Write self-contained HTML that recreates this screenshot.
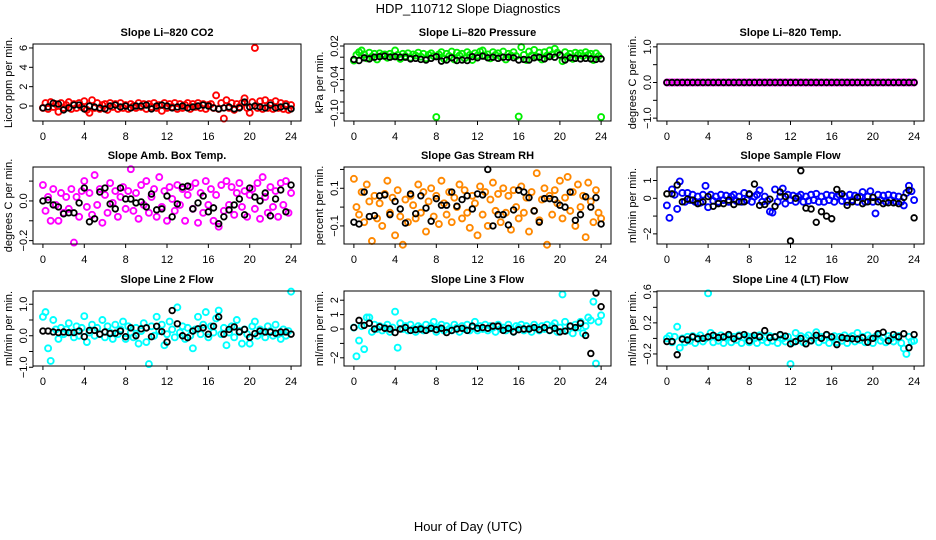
<!DOCTYPE html>
<html><head><meta charset="utf-8"><style>
body{margin:0;background:#fff;}
svg{display:block;font-family:"Liberation Sans",sans-serif;}
</style></head><body>
<svg id="chart" width="936" height="540" viewBox="0 0 936 540" xmlns="http://www.w3.org/2000/svg">
<rect width="936" height="540" fill="#fff"/>
<text x="468" y="13" font-size="13" text-anchor="middle">HDP_110712  Slope Diagnostics</text>
<text x="468" y="531" font-size="13" text-anchor="middle">Hour of Day (UTC)</text>
</svg>
<script>
const xTicks=[0,4,8,12,16,20,24];
const co2Col=[-0.2,0.3,-0.3,0.4,-0.1,0.2,-0.6,0.3,-0.2,0.1,0.4,-0.3,0.2,-0.2,0.3,-0.1,0.5,-0.4,-0.7,0.6,-0.2,0.3,-0.3,0.1,0.2,-0.4,0.3,-0.1,0.2,-0.3,0.3,-0.2,0.1,-0.3,0.2,0.0,-0.2,0.3,-0.1,0.2,-0.3,0.2,-0.1,0.3,-0.2,0.1,-0.5,0.3,-0.2,0.2,-0.1,0.3,-0.3,0.2,-0.2,0.1,0.3,-0.3,0.2,-0.1,0.3,-0.2,0.2,-0.3,0.1,0.2,-0.2,1.1,-0.3,0.3,-1.3,0.6,-0.2,0.3,-0.4,0.2,-0.1,0.3,0.8,-0.2,-0.7,0.4,6.0,-0.2,0.5,-0.3,0.6,-0.2,0.3,-0.3,0.5,-0.2,0.3,-0.3,0.2,-0.4,0.1];
const co2Blk=[-0.2,-0.1,0.3,0.2,-0.4,-0.2,0.1,0.1,-0.3,0.0,-0.1,-0.2,-0.3,0.0,0.1,-0.1,0.0,-0.2,0.0,0.0,0.1,-0.3,0.0,0.1,0.0,-0.2,-0.1,0.0,-0.2,-0.1,0.0,0.1,0.0,-0.2,-0.3,-0.2,-0.1,-0.3,-0.2,0.4,-0.1,0.0,-0.1,-0.2,0.1,-0.2,-0.1,0.0,-0.3];
const presCol=[-0.006,0.004,0.009,0.012,0.005,-0.002,0.008,0.001,0.006,-0.004,0.007,0.003,0.005,-0.001,0.006,0.002,0.012,0.004,-0.003,0.006,0.002,0.007,-0.001,0.005,0.003,0.008,0.001,0.006,-0.002,0.004,0.007,0.002,-0.107,0.005,0.009,-0.003,0.006,0.002,0.010,-0.004,0.008,0.003,0.006,-0.002,0.009,0.004,-0.005,0.007,0.003,0.010,0.012,0.002,0.005,-0.002,0.009,0.004,0.007,0.001,0.010,-0.004,0.006,0.003,0.009,0.002,-0.106,0.018,0.004,-0.005,0.010,0.003,0.013,0.001,0.008,-0.004,0.009,0.003,0.012,0.005,0.015,0.008,0.004,-0.007,0.009,0.002,0.006,-0.003,0.008,0.004,0.007,0.002,0.009,0.004,0.006,-0.005,0.007,0.002,-0.107];
const presBlk=[-0.004,-0.006,-0.001,-0.003,0.000,0.001,0.002,0.000,0.001,0.000,0.000,-0.003,-0.002,-0.004,-0.005,-0.002,0.001,-0.007,-0.005,-0.001,-0.006,-0.005,-0.006,0.001,-0.001,0.002,-0.001,0.000,-0.002,0.000,0.000,-0.001,-0.005,-0.004,-0.005,-0.001,0.000,-0.003,0.001,0.000,0.004,-0.005,-0.001,-0.002,-0.003,-0.002,-0.003,-0.004,-0.003];
const tempCol=[0,0,0,0,0,0,0,0,0,0,0,0,0,0,0,0,0,0,0,0,0,0,0,0,0,0,0,0,0,0,0,0,0,0,0,0,0,0,0,0,0,0,0,0,0,0,0,0,0,0,0,0,0,0,0,0,0,0,0,0,0,0,0,0,0,0,0,0,0,0,0,0,0,0,0,0,0,0,0,0,0,0,0,0,0,0,0,0,0,0,0,0,0,0,0,0,0];
const tempBlk=[0,0,0,0,0,0,0,0,0,0,0,0,0,0,0,0,0,0,0,0,0,0,0,0,0,0,0,0,0,0,0,0,0,0,0,0,0,0,0,0,0,0,0,0,0,0,0,0,0];
const ambCol=[0.08,-0.05,0.02,-0.1,0.06,-0.02,-0.1,0.04,-0.06,0.02,-0.04,0.06,-0.21,0.02,-0.08,0.05,0.10,-0.03,0.04,-0.07,0.13,-0.02,0.06,-0.11,0.03,-0.06,0.09,-0.01,0.05,-0.08,0.02,0.07,-0.04,0.05,0.16,-0.05,0.04,-0.09,0.08,-0.02,0.10,-0.06,0.02,0.06,-0.08,0.12,-0.03,0.05,-0.1,0.07,0.01,-0.05,0.08,-0.02,0.06,-0.1,0.03,0.07,-0.04,0.09,-0.11,0.04,-0.06,0.10,-0.02,0.06,-0.1,0.03,-0.13,0.08,-0.05,0.10,-0.02,0.07,-0.07,0.04,0.09,-0.03,0.05,-0.08,0.03,0.06,-0.04,0.09,-0.09,0.12,0.02,-0.06,0.07,-0.03,0.05,-0.08,0.09,-0.02,0.10,-0.06,0.04];
const ambBlk=[0.0,0.005,-0.02,-0.03,-0.065,-0.06,-0.06,-0.01,0.065,-0.105,-0.09,0.045,0.065,-0.015,-0.04,0.065,0.01,0.01,-0.01,-0.005,-0.03,0.035,-0.045,-0.04,0.025,-0.08,-0.015,0.07,0.075,-0.04,-0.01,0.025,-0.055,-0.035,-0.115,-0.08,-0.045,-0.02,0.01,-0.07,0.065,0.02,0.0,0.04,-0.075,0.01,0.055,-0.055,0.08];
const rhCol=[0.15,0.0,-0.04,0.08,-0.08,0.12,0.03,-0.18,0.06,-0.06,0.02,-0.1,0.07,0.14,-0.03,0.05,-0.15,0.09,-0.05,-0.2,0.04,-0.08,0.06,0.01,-0.06,0.12,-0.03,0.08,-0.13,0.03,0.10,-0.05,0.06,-0.09,0.14,0.02,-0.04,0.08,-0.08,0.05,0.0,0.12,-0.06,0.09,-0.03,-0.11,0.06,0.02,-0.15,0.11,-0.04,0.08,-0.1,0.04,0.13,-0.02,0.07,-0.08,0.10,-0.03,0.06,-0.12,0.09,0.0,-0.06,0.11,-0.03,0.05,-0.13,0.08,-0.02,0.18,-0.07,0.04,0.10,-0.2,0.06,-0.04,0.09,0.02,0.14,-0.06,0.05,0.16,-0.02,0.08,-0.1,0.12,0.0,0.06,-0.16,0.13,0.03,-0.08,0.09,-0.03,-0.06];
const rhBlk=[-0.08,-0.09,0.08,-0.05,-0.045,0.06,0.065,-0.04,0.03,-0.01,-0.085,0.07,-0.035,0.06,-0.005,-0.075,0.045,0.01,0.01,0.08,0.005,0.04,0.06,-0.01,0.07,0.065,0.2,-0.1,-0.04,-0.04,-0.095,-0.015,0.09,0.08,0.05,-0.02,-0.08,0.045,0.045,0.04,0.01,0.0,0.08,-0.07,-0.04,0.055,0.0,0.05,-0.09];
const sflCol=[-0.4,-1.1,0.5,0.2,-0.6,0.95,0.3,-0.2,0.3,-0.1,0.2,-0.2,0.1,-0.25,0.2,0.7,-0.5,0.2,-0.15,0.1,-0.2,0.2,-0.1,0.15,-0.2,0.1,0.2,-0.15,0.1,-0.2,0.3,-0.1,0.2,-0.2,0.1,0.2,0.45,-0.2,0.1,-0.15,-0.75,-0.8,0.5,-0.2,0.1,0.55,-0.3,0.2,-0.1,0.15,-0.2,0.1,0.2,-0.2,0.1,-0.15,0.2,-0.1,0.25,-0.2,0.1,-0.2,0.2,-0.1,0.15,-0.2,0.1,0.2,-0.15,0.1,-0.2,0.2,-0.1,0.15,-0.2,0.1,0.35,-0.2,0.1,0.4,-0.2,-0.85,0.2,-0.1,0.15,-0.2,0.2,-0.1,0.15,-0.2,0.1,-0.2,-0.4,0.3,0.7,0.4,-0.1];
const sflBlk=[0.25,0.25,0.75,-0.2,-0.05,-0.1,-0.3,-0.2,0.1,-0.45,-0.3,-0.3,-0.1,-0.35,-0.2,-0.2,0.25,0.8,-0.4,-0.35,-0.05,-0.45,0.35,0.1,-2.4,0.0,1.55,-0.55,-0.6,-1.35,-0.75,-1.0,-1.15,0.5,0.25,-0.4,-0.2,0.05,-0.3,-0.2,0.05,-0.2,-0.3,-0.25,-0.25,-0.3,0.05,0.45,-1.1];
const l2Col=[0.6,0.75,-0.4,-0.8,0.5,0.2,-0.1,0.25,0.05,0.2,0.4,0.1,-0.05,0.3,0.0,0.25,0.62,-0.2,0.1,0.35,0.0,0.25,0.05,0.5,-0.05,0.3,0.1,-0.1,0.35,0.05,0.2,0.45,-0.1,0.3,0.1,-0.05,0.25,-0.25,0.15,0.4,-0.2,-0.9,0.3,0.0,0.6,0.15,0.35,-0.3,0.05,0.45,0.2,-0.05,0.9,0.1,0.3,-0.1,0.25,0.0,-0.4,0.2,0.6,0.05,0.35,0.75,-0.05,0.3,0.1,0.55,0.8,0.05,0.25,-0.3,0.1,0.3,-0.05,0.5,0.15,-0.25,0.2,0.05,-0.25,0.3,0.45,0.0,0.2,0.1,-0.05,0.3,0.15,0.0,0.35,0.05,-0.1,0.2,0.0,0.15,1.4];
const l2Blk=[0.15,0.15,0.12,0.1,0.12,0.1,0.1,0.15,-0.03,0.17,0.17,0.05,0.12,0.07,0.08,0.15,-0.03,0.25,0.0,0.22,0.25,-0.03,0.3,0.13,-0.2,0.8,0.38,0.0,-0.06,0.15,0.22,0.25,0.05,0.3,0.6,0.05,0.2,0.28,0.12,0.2,-0.05,0.07,0.15,0.12,0.12,0.08,0.12,0.12,0.05];
const l3Col=[0.1,-1.9,-0.8,0.2,-1.4,0.8,0.8,-0.2,0.3,0.0,0.2,-0.1,0.1,0.3,-0.2,0.1,1.2,-1.3,0.4,0.0,0.2,-0.1,0.3,0.0,-0.2,0.2,0.1,-0.1,0.3,0.0,0.2,0.5,-0.2,0.1,0.3,-0.1,0.2,0.0,-0.1,0.3,0.1,-0.2,0.2,0.0,0.3,-0.1,0.1,0.5,-0.1,0.2,0.0,0.3,-0.1,0.2,0.1,-0.2,0.3,0.0,0.1,-0.1,0.3,0.0,-0.2,0.2,0.1,0.3,-0.1,0.2,0.0,-0.2,0.3,0.1,-0.1,0.2,0.0,0.3,-0.1,0.2,0.4,-0.2,0.1,2.4,0.5,-0.1,0.2,-0.3,0.3,0.1,0.5,-0.3,0.2,0.8,0.6,1.9,-2.4,0.5,0.95];
const l3Blk=[0.1,0.6,0.25,0.4,0.0,0.15,0.05,0.0,-0.25,0.0,0.1,-0.1,-0.05,0.0,-0.1,0.05,-0.05,0.05,-0.25,-0.1,0.0,0.05,-0.1,0.2,0.05,0.1,0.05,0.2,0.2,-0.1,0.05,-0.2,-0.05,0.0,0.0,0.1,-0.05,0.1,-0.1,0.05,-0.2,-0.15,0.2,0.1,0.4,-0.45,-1.7,2.5,1.55];
const l4Col=[0.0,0.03,-0.05,0.02,0.15,-0.12,0.0,-0.05,0.02,-0.03,0.03,-0.06,0.01,0.04,-0.04,0.0,0.58,0.07,-0.05,0.02,-0.03,0.04,-0.06,0.01,0.03,-0.05,0.02,-0.02,0.04,-0.06,0.01,0.03,-0.05,0.02,0.0,-0.06,0.04,-0.02,0.01,-0.05,0.03,-0.03,0.02,-0.06,0.04,0.0,-0.04,0.02,-0.33,-0.05,0.07,-0.02,0.03,-0.05,0.01,0.04,-0.03,0.0,0.08,-0.05,0.02,-0.02,0.04,-0.06,0.01,0.03,-0.05,0.02,-0.03,0.04,-0.06,0.01,0.03,-0.04,0.07,-0.02,0.02,-0.05,0.04,0.0,-0.06,0.02,0.04,-0.03,0.01,-0.05,0.03,0.0,-0.04,0.02,0.03,-0.06,-0.13,-0.2,0.02,-0.04,-0.03];
const l4Blk=[-0.04,-0.04,-0.21,-0.01,-0.02,0.02,-0.005,0.0,0.02,0.04,0.01,0.02,0.05,-0.005,0.03,0.05,-0.03,0.04,0.02,0.1,0.01,0.02,0.05,0.03,-0.07,-0.04,0.0,-0.07,-0.03,0.04,0.0,0.05,0.02,-0.08,0.01,0.0,-0.005,-0.01,0.01,-0.05,0.0,0.06,0.08,-0.03,0.05,0.02,0.06,-0.12,0.05];

const NS='http://www.w3.org/2000/svg';
const svg=document.getElementById('chart');
function mk(tag,attrs,parent){const e=document.createElementNS(NS,tag);for(const k in attrs)e.setAttribute(k,attrs[k]);(parent||svg).appendChild(e);return e;}

const panels=[
 {id:'co2',title:'Slope Li\u2013820 CO2',ylab:'Licor ppm per min.',L:33,T:44,W:268,H:77,top:6.41,bot:-1.55,ticks:[0,2,4,6],labels:['0','2','4','6'],color:'#ff0000',col:co2Col,blk:co2Blk},
 {id:'pressure',title:'Slope Li\u2013820 Pressure',ylab:'kPa per min.',L:344,T:44,W:267,H:77,top:0.0236,bot:-0.114,ticks:[0.02,0,-0.02,-0.04,-0.06,-0.08,-0.10],labels:['0.02','','','\u22120.04','','','\u22120.10'],color:'#00ee00',col:presCol,blk:presBlk},
 {id:'temp',title:'Slope Li\u2013820 Temp.',ylab:'degrees C per min.',L:657,T:44,W:267,H:77,top:1.08,bot:-1.08,ticks:[-1,-0.5,0,0.5,1],labels:['\u22121.0','','0.0','','1.0'],color:'#ff00ff',col:tempCol,blk:tempBlk},
 {id:'amb-temp',title:'Slope Amb. Box Temp.',ylab:'degrees C per min.',L:33,T:167,W:268,H:77,top:0.171,bot:-0.217,ticks:[-0.2,-0.1,0,0.1],labels:['\u22120.2','','0.0',''],color:'#ff00ff',col:ambCol,blk:ambBlk},
 {id:'rh',title:'Slope Gas Stream RH',ylab:'percent per min.',L:344,T:167,W:267,H:77,top:0.213,bot:-0.196,ticks:[-0.1,0,0.1,0.2],labels:['\u22120.1','','0.1',''],color:'#ff8800',col:rhCol,blk:rhBlk},
 {id:'sample-flow',title:'Slope Sample Flow',ylab:'ml/min per min.',L:657,T:167,W:267,H:77,top:1.76,bot:-2.57,ticks:[-2,-1,0,1],labels:['\u22122','','0','1'],color:'#0000ff',col:sflCol,blk:sflBlk},
 {id:'line2',title:'Slope Line 2 Flow',ylab:'ml/min per min.',L:33,T:291,W:268,H:75,top:1.42,bot:-0.96,ticks:[-1,-0.5,0,0.5,1],labels:['\u22121.0','','0.0','','1.0'],color:'#00ffff',col:l2Col,blk:l2Blk},
 {id:'line3',title:'Slope Line 3 Flow',ylab:'ml/min per min.',L:344,T:291,W:267,H:75,top:2.64,bot:-2.57,ticks:[-2,-1,0,1,2],labels:['\u22122','','0','1','2'],color:'#00ffff',col:l3Col,blk:l3Blk},
 {id:'line4',title:'Slope Line 4 (LT) Flow',ylab:'ml/min per min.',L:657,T:291,W:267,H:75,top:0.61,bot:-0.355,ticks:[-0.2,0,0.2,0.4,0.6],labels:['\u22120.2','','0.2','','0.6'],color:'#00ffff',col:l4Col,blk:l4Blk}
];

panels.forEach(p=>{
 const g=mk('g',{});
 
 
 const xs=h=>p.L+(h+0.96)/25.92*p.W;
 const ys=v=>p.T+(p.top-v)/(p.top-p.bot)*p.H;
 const B=p.T+p.H;
 const t=mk('text',{x:p.L+p.W/2,y:p.T-8,'font-size':11,'font-weight':'bold','text-anchor':'middle'},g);
 t.textContent=p.title;
 
 
 const yl=mk('text',{transform:`translate(${p.L-21},${p.T+p.H/2}) rotate(-90)`,'font-size':11,'text-anchor':'middle'},g);
 yl.textContent=p.ylab;
 
 
 const xa=mk('g',{},g);
 
 
 mk('line',{x1:xs(0),x2:xs(24),y1:B,y2:B,stroke:'#000','stroke-width':1},xa);
 xTicks.forEach(h=>{
  mk('line',{x1:xs(h),x2:xs(h),y1:B,y2:B+4,stroke:'#000','stroke-width':1},xa);
  const tl=mk('text',{x:xs(h),y:B+19,'font-size':11,'text-anchor':'middle'},xa);
  tl.textContent=String(h);
  
  
 });
 const ya=mk('g',{},g);
 
 
 const tv=p.ticks;
 mk('line',{x1:p.L,x2:p.L,y1:ys(Math.max(...tv)),y2:ys(Math.min(...tv)),stroke:'#000','stroke-width':1},ya);
 tv.forEach((v,i)=>{
  mk('line',{x1:p.L-4,x2:p.L,y1:ys(v),y2:ys(v),stroke:'#000','stroke-width':1},ya);
  if(p.labels[i]){
   const tl=mk('text',{transform:`translate(${p.L-6},${ys(v)}) rotate(-90)`,'font-size':11,'text-anchor':'middle'},ya);
   tl.textContent=p.labels[i];
   
   
  }
 });
 const cg=mk('g',{fill:'none',stroke:p.color,'stroke-width':1.9},g);
 
 
 p.col.forEach((v,i)=>{
  const c=mk('circle',{cx:xs(i*24/(p.col.length-1)),cy:ys(v),r:3},cg);
  
  
 });
 const bg=mk('g',{fill:'none',stroke:'#000','stroke-width':1.8},g);
 
 
 p.blk.forEach((v,i)=>{
  const c=mk('circle',{cx:xs(i*24/(p.blk.length-1)),cy:ys(v),r:2.8},bg);
  
  
 });
 const bx=mk('rect',{x:p.L,y:p.T,width:p.W,height:p.H,fill:'none',stroke:'#000','stroke-width':1},g);
 
 
});
</script>
</body></html>
